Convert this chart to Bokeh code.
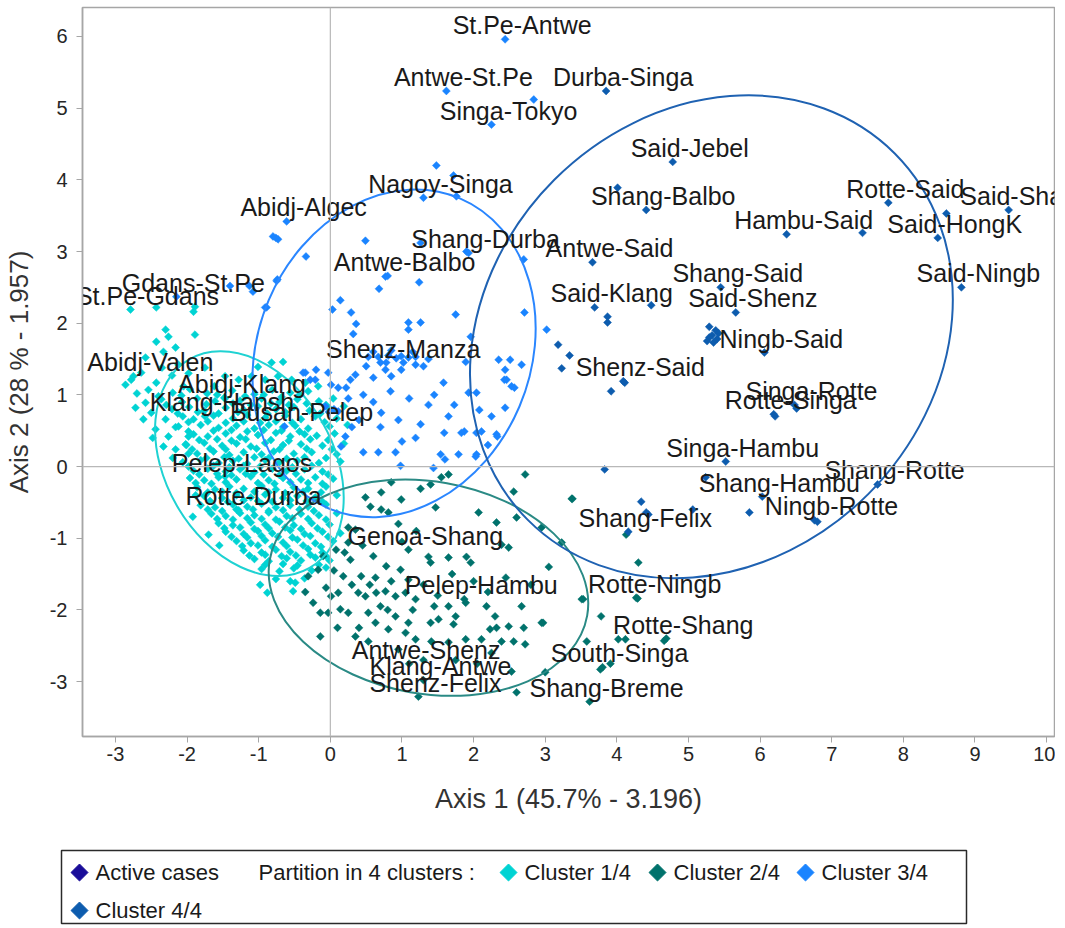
import numpy as np
from bokeh.plotting import figure
from bokeh.models import Range1d, FixedTicker, Span
from bokeh.embed import file_html
from bokeh.resources import INLINE
from bokeh.core.properties import value

# ---------------- data ----------------
x_ticks = [-3, -2, -1, 0, 1, 2, 3, 4, 5, 6, 7, 8, 9, 10]
y_ticks = [-3, -2, -1, 0, 1, 2, 3, 4, 5, 6]
x_title = "Axis 1 (45.7% - 3.196)"
y_title = "Axis 2 (28 % - 1.957)"

cluster_names = ["Cluster 1/4", "Cluster 2/4", "Cluster 3/4", "Cluster 4/4"]
cluster_colors = ["#00d3d3", "#00726c", "#1a84ff", "#0d5cae"]
ellipse_colors = ["#1fd2d2", "#2a8a85", "#2a86ff", "#1f62b2"]
active_color = "#1a0d99"

# labelled cases: name, axis1, axis2, cluster
lab_names = ["St.Pe-Antwe", "Antwe-St.Pe", "Durba-Singa", "Singa-Tokyo", "Said-Jebel",
             "Nagoy-Singa", "Abidj-Algec", "Shang-Balbo", "Rotte-Said", "Said-Shang",
             "Hambu-Said", "Said-HongK", "Shang-Durba", "Antwe-Said", "Antwe-Balbo",
             "Gdans-St.Pe", "Said-Ningb", "Shang-Said", "St.Pe-Gdans", "Said-Klang",
             "Said-Shenz", "Shenz-Manza", "Ningb-Said", "Abidj-Valen", "Shenz-Said",
             "Abidj-Klang", "Singa-Rotte", "Rotte-Singa", "Klang-Hansh", "Busan-Pelep",
             "Singa-Hambu", "Pelep-Lagos", "Shang-Rotte", "Shang-Hambu", "Rotte-Durba",
             "Ningb-Rotte", "Shang-Felix", "Genoa-Shang", "Pelep-Hambu", "Rotte-Ningb",
             "Rotte-Shang", "Antwe-Shenz", "South-Singa", "Klang-Antwe", "Shenz-Felix",
             "Shang-Breme"]
lab_x = [2.44, 1.62, 3.85, 2.25, 4.78, 1.30, -0.61, 4.41, 7.79, 9.47,
         6.37, 8.48, 1.93, 3.66, 0.80, -2.15, 8.81, 5.45, -2.79, 3.69,
         5.66, 0.78, 6.06, -2.75, 4.09, -1.47, 6.48, 6.19, -1.75, -0.64,
         5.52, -1.47, 7.64, 6.03, -1.31, 6.76, 4.16, 1.09, 1.87, 4.29,
         4.69, 1.10, 3.80, 1.30, 1.23, 3.62]
lab_y = [5.96, 5.24, 5.24, 4.77, 4.25, 3.75, 3.42, 3.58, 3.68, 3.58,
         3.24, 3.19, 2.98, 2.85, 2.66, 2.37, 2.50, 2.50, 2.19, 2.22,
         2.15, 1.45, 1.59, 1.26, 1.19, 0.95, 0.86, 0.73, 0.70, 0.56,
         0.07, -0.14, -0.25, -0.42, -0.60, -0.75, -0.91, -1.16, -1.85, -1.84,
         -2.40, -2.75, -2.80, -2.98, -3.21, -3.28]
lab_cluster = [3, 3, 4, 3, 4, 3, 3, 4, 4, 4,
               4, 4, 3, 4, 3, 3, 4, 4, 1, 4,
               4, 3, 4, 1, 4, 1, 4, 4, 1, 3,
               4, 1, 4, 4, 1, 4, 4, 2, 2, 2,
               2, 2, 2, 2, 2, 2]

# unlabelled cases of each cluster (axis1, axis2)
c1_points = [
    (-2.43, 2.22), (-1.91, 2.16), (-1.89, 2.23), (-2.30, 1.91), (-2.26, 1.81), (-2.43, 1.74), (-1.89, 1.84),
    (-2.33, 1.60), (-2.16, 1.66), (-2.58, 1.52), (-2.86, 1.14), (-2.78, 1.21), (-2.64, 1.31), (-2.54, 1.07),
    (-2.43, 1.17), (-2.40, 0.98), (-2.58, 0.89), (-2.61, 0.66), (-2.50, 0.75), (-2.30, 0.66), (-2.44, 0.52),
    (-2.26, 0.42), (-2.12, 0.56), (-1.98, 0.42), (-2.33, 0.28), (-2.16, 0.24), (-2.02, 0.31), (-0.82, 1.45),
    (-0.66, 1.46), (-1.01, 1.39), (-1.47, 1.26), (-1.28, 1.21), (-1.10, 1.26), (-0.91, 1.21), (-0.73, 1.26),
    (-0.54, 1.21), (-0.35, 1.17), (-0.17, 1.12), (-2.12, 1.42), (-1.98, 1.30), (-2.21, 1.27), (-1.75, 1.38),
    (-1.62, 1.12), (-2.05, 1.12), (-2.35, 1.38), (-2.70, 1.02), (-2.72, 0.82), (-2.48, 0.40), (-2.20, 0.12),
    (-1.98, 0.18), (-1.88, -0.40), (-1.92, -0.70), (-1.70, -0.95), (-1.55, -1.10),
    (-2.20, 1.03), (-1.96, 1.08), (-1.72, 1.02), (-1.37, 1.06), (-1.06, 1.01), (-0.81, 1.07), (-0.56, 1.03), (-0.31, 1.05),
    (-2.36, 0.94), (-2.07, 0.90), (-1.86, 0.95), (-1.61, 0.91), (-1.48, 0.96), (-1.26, 0.92), (-0.96, 0.95),
    (-0.71, 0.90), (-0.46, 0.94), (-0.16, 0.91), (0.04, 0.95),
    (-2.21, 0.80), (-1.97, 0.83), (-1.76, 0.78), (-1.46, 0.82), (-1.21, 0.79), (-1.01, 0.84), (-0.76, 0.80),
    (-0.51, 0.83), (-0.29, 0.78), (-0.01, 0.81), (0.19, 0.84),
    (-2.06, 0.70), (-1.91, 0.66), (-1.63, 0.71), (-1.36, 0.67), (-1.16, 0.72), (-0.91, 0.68), (-0.63, 0.71),
    (-0.41, 0.66), (-0.21, 0.70), (0.09, 0.67),
    (-2.16, 0.55), (-1.81, 0.58), (-1.56, 0.54), (-1.31, 0.57), (-1.06, 0.53), (-0.86, 0.58), (-0.66, 0.55),
    (-0.49, 0.57), (-0.31, 0.53), (-0.01, 0.56), (0.24, 0.58),
    (-1.91, 0.45), (-1.71, 0.42), (-1.46, 0.46), (-1.26, 0.41), (-1.01, 0.44), (-0.76, 0.47), (-0.56, 0.42),
    (-0.36, 0.45), (-0.19, 0.43), (0.06, 0.46),
    (-2.01, 0.30), (-1.76, 0.33), (-1.51, 0.29), (-1.31, 0.32), (-1.11, 0.28), (-0.91, 0.33), (-0.66, 0.30),
    (-0.41, 0.31), (-0.11, 0.29), (0.19, 0.32),
    (-1.86, 0.18), (-1.63, 0.21), (-1.41, 0.16), (-1.21, 0.20), (-0.96, 0.17), (-0.79, 0.21), (-0.51, 0.18),
    (-0.26, 0.20), (0.09, 0.17),
    (-2.06, 0.06), (-1.81, 0.09), (-1.56, 0.05), (-1.36, 0.08), (-1.16, 0.04), (-0.91, 0.09), (-0.71, 0.06),
    (-0.46, 0.08), (-0.16, 0.05), (0.14, 0.07),
    (-1.91, -0.06), (-1.71, -0.03), (-1.46, -0.07), (-1.26, -0.04), (-1.06, -0.08), (-0.81, -0.03),
    (-0.61, -0.06), (-0.36, -0.04), (-0.11, -0.07),
    (-1.96, -0.16), (-1.76, -0.19), (-1.56, -0.15), (-1.31, -0.18), (-1.11, -0.14), (-0.86, -0.19),
    (-0.66, -0.16), (-0.41, -0.18), (-0.21, -0.15), (0.04, -0.17),
    (-1.86, -0.29), (-1.61, -0.32), (-1.41, -0.28), (-1.21, -0.31), (-0.96, -0.27), (-0.76, -0.32),
    (-0.51, -0.29), (-0.31, -0.31), (-0.06, -0.28),
    (-1.76, -0.41), (-1.51, -0.44), (-1.31, -0.40), (-1.11, -0.43), (-0.91, -0.39), (-0.66, -0.44),
    (-0.46, -0.41), (-0.21, -0.43), (0.09, -0.40),
    (-1.81, -0.54), (-1.61, -0.57), (-1.36, -0.53), (-1.16, -0.56), (-0.96, -0.52), (-0.76, -0.57),
    (-0.56, -0.54), (-0.31, -0.56), (-0.06, -0.53),
    (-1.66, -0.66), (-1.46, -0.69), (-1.26, -0.65), (-1.06, -0.68), (-0.86, -0.64), (-0.61, -0.69),
    (-0.41, -0.66), (-0.16, -0.68), (0.09, -0.65),
    (-1.56, -0.79), (-1.36, -0.82), (-1.11, -0.78), (-0.91, -0.81), (-0.71, -0.77), (-0.51, -0.82),
    (-0.26, -0.79), (-0.01, -0.81),
    (-1.46, -0.91), (-1.21, -0.94), (-1.01, -0.90), (-0.81, -0.93), (-0.56, -0.89), (-0.36, -0.94),
    (-0.11, -0.91), (0.14, -0.93),
    (-1.31, -1.04), (-1.11, -1.07), (-0.91, -1.03), (-0.66, -1.06), (-0.46, -1.02), (-0.21, -1.07), (0.04, -1.04),
    (-1.21, -1.17), (-0.96, -1.20), (-0.76, -1.16), (-0.56, -1.19), (-0.31, -1.15), (-0.11, -1.20),
    (-1.06, -1.29), (-0.86, -1.32), (-0.61, -1.28), (-0.41, -1.31), (-0.21, -1.27), (-0.01, -1.31),
    (-0.96, -1.43), (-0.71, -1.46), (-0.51, -1.42), (-0.26, -1.45), (-0.06, -1.41),
    (-0.76, -1.57), (-0.56, -1.60), (-0.36, -1.56), (-0.98, -1.65), (-0.49, -1.62), (-0.88, -1.76), (-0.52, -1.74),
    (-2.08, 0.99), (-1.58, 1.00), (-1.19, 0.98), (-0.93, 1.00), (-0.68, 0.97), (-0.43, 1.00),
    (-2.29, 0.86), (-1.73, 0.87), (-1.36, 0.88), (-1.11, 0.86), (-0.83, 0.88), (-0.58, 0.86), (-0.33, 0.88), (-0.06, 0.86),
    (-2.13, 0.74), (-1.85, 0.76), (-1.56, 0.74), (-1.29, 0.76), (-0.88, 0.74), (-0.63, 0.76), (-0.14, 0.74),
    (-1.98, 0.62), (-1.71, 0.63), (-1.46, 0.61), (-1.21, 0.63), (-0.98, 0.61), (-0.76, 0.63), (-0.53, 0.61), (-0.08, 0.62),
    (-1.98, 0.49), (-1.63, 0.50), (-1.38, 0.51), (-1.16, 0.49), (-0.93, 0.51), (-0.68, 0.50), (-0.43, 0.49),
    (-1.83, 0.37), (-1.58, 0.38), (-1.38, 0.36), (-1.18, 0.38), (-0.83, 0.37), (-0.58, 0.36), (-0.28, 0.38), (-0.03, 0.37),
    (-1.93, 0.24), (-1.68, 0.25), (-1.46, 0.24), (-1.03, 0.25), (-0.71, 0.24), (-0.33, 0.25), (0.02, 0.24),
    (-1.73, 0.12), (-1.48, 0.13), (-1.28, 0.11), (-1.06, 0.13), (-0.86, 0.12), (-0.61, 0.11), (-0.36, 0.13), (-0.06, 0.12),
    (-1.98, 0.00), (-1.63, 0.01), (-1.41, -0.01), (-1.21, 0.01), (-0.98, 0.00), (-0.53, -0.01), (-0.26, 0.01),
    (-1.83, -0.11), (-1.58, -0.10), (-1.38, -0.12), (-1.18, -0.10), (-0.93, -0.11), (-0.71, -0.12), (-0.48, -0.10), (-0.03, -0.11),
    (-1.88, -0.23), (-1.66, -0.24), (-1.46, -0.22), (-1.01, -0.23), (-0.78, -0.24), (-0.56, -0.22), (-0.31, -0.23), (-0.11, -0.24),
    (-1.71, -0.36), (-1.51, -0.35), (-1.31, -0.37), (-1.06, -0.35), (-0.86, -0.36), (-0.63, -0.37), (-0.38, -0.35), (-0.13, -0.36),
    (-1.68, -0.48), (-1.43, -0.49), (-1.21, -0.47), (-1.01, -0.48), (-0.81, -0.49), (-0.56, -0.47), (-0.33, -0.48), (-0.11, -0.49),
    (-1.71, -0.60), (-1.51, -0.62), (-1.28, -0.61), (-1.08, -0.60), (-0.86, -0.62), (-0.66, -0.61), (-0.43, -0.60), (-0.23, -0.62),
    (-1.58, -0.73), (-1.36, -0.74), (-1.16, -0.72), (-0.96, -0.73), (-0.76, -0.74), (-0.53, -0.72), (-0.31, -0.73), (-0.06, -0.74),
    (-1.48, -0.86), (-1.26, -0.85), (-1.06, -0.87), (-0.86, -0.86), (-0.63, -0.85), (-0.41, -0.87), (-0.18, -0.86),
    (-1.38, -0.98), (-1.16, -0.99), (-0.96, -0.97), (-0.73, -0.98), (-0.53, -0.99), (-0.28, -0.97), (-0.03, -0.98),
    (-1.23, -1.11), (-1.01, -1.10), (-0.81, -1.12), (-0.61, -1.11), (-0.38, -1.10), (-0.13, -1.12),
    (-1.13, -1.24), (-0.91, -1.23), (-0.68, -1.25), (-0.48, -1.24), (-0.28, -1.23), (-0.06, -1.25),
    (-0.91, -1.37), (-0.66, -1.36), (-0.46, -1.38), (-0.16, -1.37),
]

c2_points = [
    (1.65, -0.11), (1.55, -0.15), (2.72, -0.11), (0.85, -0.22), (1.26, -0.31), (1.40, -0.25), (2.56, -0.35),
    (3.38, -0.45), (0.49, -0.43), (0.71, -0.36), (0.99, -0.46), (0.56, -0.56), (0.71, -0.60), (0.81, -0.64),
    (1.47, -0.57), (2.07, -0.64), (2.32, -0.78), (2.60, -0.71), (2.95, -0.85), (0.25, -0.85), (0.35, -0.88),
    (0.08, -1.16), (0.25, -1.06), (1.37, -1.26), (1.40, -1.34), (1.65, -1.27), (1.90, -1.26), (1.96, -1.34),
    (2.39, -1.09), (2.49, -1.13), (-0.17, -1.44), (-0.31, -1.53), (0.28, -1.30), (0.18, -1.53), (0.43, -1.53),
    (0.63, -1.55), (0.78, -1.39), (0.98, -1.44), (1.09, -1.58), (-0.06, -1.69), (-0.24, -1.90), (0.01, -1.81),
    (0.11, -1.76), (0.39, -1.76), (0.49, -1.81), (0.64, -1.76), (0.77, -1.74), (0.91, -1.81), (1.05, -1.76),
    (1.19, -1.85), (0.70, -1.95), (0.53, -2.04), (-0.14, -2.04), (-0.03, -2.04), (0.14, -1.99), (0.25, -2.04),
    (1.65, -1.95), (1.89, -1.90), (2.18, -1.95), (2.67, -1.95), (3.51, -1.85), (3.78, -2.09), (0.91, -2.09),
    (1.09, -2.18), (1.40, -2.18), (1.51, -2.13), (1.75, -2.09), (1.72, -2.20), (2.30, -2.09), (2.32, -2.25),
    (2.49, -2.23), (2.23, -2.27), (2.70, -2.25), (2.95, -2.18), (0.63, -2.18), (0.81, -2.27), (1.05, -2.32),
    (1.19, -2.41), (-0.14, -2.37), (0.35, -2.37), (0.53, -2.44), (1.41, -2.44), (1.65, -2.45), (1.89, -2.41),
    (2.11, -2.41), (2.39, -2.44), (2.56, -2.44), (2.72, -2.48), (3.58, -2.44), (4.12, -2.41), (2.53, -2.86),
    (3.00, -2.87), (3.77, -2.83), (2.60, -3.15), (3.37, -0.45), (4.13, -0.95), (4.30, -1.34), (3.23, -1.06),
    (3.53, -1.85), (2.97, -2.18), (4.02, -2.41), (4.66, -2.43), (3.91, -2.75), (4.27, -1.83),
    (0.30, -1.65), (0.55, -1.65), (0.85, -1.60), (1.30, -1.65), (1.50, -1.80), (0.20, -1.20), (0.45, -1.10),
    (0.60, -1.25), (1.00, -1.05), (1.20, -0.90), (0.95, -0.80), (1.70, -1.50), (2.00, -1.60), (2.20, -1.75),
    (2.45, -1.55), (2.80, -1.65), (3.05, -1.40), (0.40, -2.25), (0.95, -2.55), (1.30, -2.70), (1.75, -2.70),
    (2.05, -2.75), (2.25, -2.60), (0.10, -2.25), (-0.35, -1.75), (1.15, -2.00), (0.80, -2.00), (1.45, -1.95),
    (0.05, -1.45), (-0.10, -1.25),
]

c3_points = [
    (1.48, 4.20), (1.72, 4.06), (1.76, 3.77), (0.49, 3.15), (1.26, 3.12), (1.90, 3.00), (2.70, 2.89),
    (-0.34, 2.93), (-0.80, 3.21), (-0.73, 3.17), (-0.76, 3.19), (-0.74, 2.61), (-0.91, 2.22), (0.77, 2.65),
    (0.68, 2.48), (1.24, 2.57), (0.14, 2.32), (0.03, 2.19), (0.29, 2.15), (0.36, 1.99), (0.32, 1.85),
    (1.09, 2.01), (1.09, 1.91), (1.26, 2.01), (1.75, 2.12), (2.71, 2.15), (3.02, 1.91), (2.35, 1.49),
    (2.51, 1.49), (2.67, 1.42), (2.44, 1.35), (2.46, 1.21), (2.53, 1.12), (1.89, 1.46), (0.53, 1.53),
    (0.67, 1.53), (0.81, 1.55), (0.92, 1.51), (0.99, 1.54), (1.09, 1.52), (1.19, 1.53), (1.37, 1.50),
    (0.77, 1.35), (0.99, 1.35), (1.19, 1.42), (0.60, 1.24), (0.85, 1.26), (1.58, 1.17), (1.93, 1.03),
    (2.04, 1.03), (1.37, 0.86), (1.73, 0.86), (2.44, 0.82), (0.46, 1.00), (0.84, 1.05), (0.71, 0.75),
    (1.26, 0.59), (1.59, 0.47), (1.83, 0.47), (2.04, 0.47), (2.32, 0.45), (1.19, 0.40), (0.91, 0.20),
    (0.67, 0.20), (0.46, 0.20), (1.54, 0.17), (1.79, 0.17), (2.04, 0.17), (-0.35, 1.31), (-0.20, 1.35),
    (-0.03, 1.31), (-0.21, 1.21), (0.01, 1.14), (0.11, 1.10), (0.22, 1.10), (0.28, 1.21), (0.35, 1.28),
    (-0.07, 0.84), (0.05, 0.80), (0.11, 0.77), (-0.02, 0.76), (-0.38, 1.31), (-0.28, 1.21), (0.21, 0.42),
    (0.15, 0.28), (-1.40, 2.52), (-1.13, 2.52), (-1.08, 2.44), (-0.75, 2.59), (-0.89, 2.22), (2.84, 5.12),
    (1.96, 1.81), (2.08, 0.79), (2.11, 0.49), (2.33, 0.42), (2.03, 0.14), (0.98, 0.01), (1.44, -0.02),
    (1.60, 0.10), (2.57, 1.10), (2.43, 1.21), (1.87, 0.49),
    (0.60, 1.60), (0.85, 1.62), (1.15, 1.60), (0.70, 1.45), (1.02, 1.45), (1.30, 1.40), (0.50, 1.40),
    (0.40, 0.65), (0.70, 0.55), (0.95, 0.65), (1.10, 0.95), (0.60, 0.90), (1.45, 1.00), (1.65, 0.70),
    (1.00, 0.35), (0.30, 0.55), (0.25, 0.95), (2.25, 0.70), (2.20, 0.30),
]

c4_points = [
    (4.01, 3.89), (8.60, 3.53), (7.43, 3.26), (4.48, 2.25), (3.87, 2.09), (3.87, 2.01), (5.29, 1.95),
    (5.33, 1.83), (5.40, 1.78), (5.35, 1.73), (5.29, 1.80), (5.38, 1.90), (5.26, 1.75), (5.42, 1.86),
    (3.18, 1.70), (3.34, 1.55), (3.23, 1.37), (4.11, 1.17), (3.92, 1.05), (6.21, 0.70), (6.51, 0.81),
    (3.83, -0.04), (5.24, -0.15), (4.34, -0.49), (5.06, -0.60), (5.85, -0.64), (6.80, -0.77), (4.44, -0.67),
    (4.41, -0.64),
]

# concentration ellipses of the clusters (centre, full axes, angle in degrees)
ell_cx = [-1.13, 1.37, 0.89, 5.32]
ell_cy = [0.04, -1.69, 1.58, 1.81]
ell_major = [3.36, 4.50, 4.70, 7.24]
ell_minor = [2.34, 2.96, 3.80, 6.20]
ell_angle = [-60, -10, 67, 45]

FONT = "Liberation Sans"

# ---------------- main chart ----------------
p = figure(frame_width=972, frame_height=729,
           x_range=Range1d(-3.46, 10.11), y_range=Range1d(-3.766, 6.404),
           output_backend="svg", toolbar_location=None,
           min_border_left=82, min_border_right=1, min_border_top=7, min_border_bottom=99)
p.grid.visible = False
p.outline_line_color = "#a6a6a6"
p.outline_line_width = 1.5
p.background_fill_color = "white"

for ax, ticks in ((p.xaxis, x_ticks), (p.yaxis, y_ticks)):
    ax.ticker = FixedTicker(ticks=ticks)
    ax.major_label_overrides = {t: str(t) for t in ticks}
    ax.axis_line_color = "#a6a6a6"
    ax.axis_line_width = 1.5
    ax.major_tick_line_color = "#a6a6a6"
    ax.major_tick_out = 6
    ax.major_tick_in = 0
    ax.minor_tick_line_color = None
    ax.major_label_text_font = FONT
    ax.major_label_text_font_size = "20px"
    ax.major_label_text_color = "#262626"
    ax.axis_label_text_font = FONT
    ax.axis_label_text_font_style = "normal"
    ax.axis_label_text_color = "#333333"
p.xaxis.axis_label = x_title
p.yaxis.axis_label = y_title
p.xaxis.axis_label_text_font_size = "27px"
p.yaxis.axis_label_text_font_size = "26px"
p.xaxis.major_label_standoff = 4
p.xaxis.axis_label_standoff = 20
p.yaxis.major_label_standoff = 9
p.yaxis.axis_label_standoff = 13

p.add_layout(Span(location=0, dimension="height", line_color="#b8b8b8", line_width=1.2))
p.add_layout(Span(location=0, dimension="width", line_color="#b8b8b8", line_width=1.2))

all_points = [c1_points, c2_points, c3_points, c4_points]
for k in range(4):
    xs = [pt[0] for pt in all_points[k]] + [lab_x[i] for i in range(len(lab_x)) if lab_cluster[i] == k + 1]
    ys = [pt[1] for pt in all_points[k]] + [lab_y[i] for i in range(len(lab_y)) if lab_cluster[i] == k + 1]
    p.scatter(xs, ys, marker="square", angle=np.pi / 4, size=5.6,
              fill_color=cluster_colors[k], line_color=cluster_colors[k], line_width=0.5)

p.ellipse(x=ell_cx, y=ell_cy, width=ell_major, height=ell_minor,
          angle=[np.deg2rad(a) for a in ell_angle], angle_units="rad",
          fill_color=None, line_color=ellipse_colors, line_width=2)

p.text(x=lab_x, y=lab_y, text=lab_names, text_align="center", text_baseline="alphabetic",
       x_offset=17, y_offset=-14, text_font=value(FONT), text_font_size="25px",
       text_color="#1a1a1a")

# ---------------- legend strip (separate root, not frame-aligned) ----------------
LW, LH = 1049, 90
lg = figure(width=LW, height=LH, x_range=Range1d(0, LW), y_range=Range1d(LH, 0),
            x_axis_type=None, y_axis_type=None, output_backend="svg",
            toolbar_location=None, min_border=0, outline_line_color=None)
lg.grid.visible = False
lg.quad(left=[61], right=[966], top=[15], bottom=[88], fill_color=None,
        line_color="#2a2a2a", line_width=1.5)

leg_labels = ["Active cases", "Cluster 1/4", "Cluster 2/4", "Cluster 3/4", "Cluster 4/4"]
leg_colors = [active_color] + cluster_colors
mark_x = [79, 508, 657, 805, 79]
mark_y = [37, 37, 37, 37, 75]
lg.scatter(mark_x, mark_y, marker="square", angle=np.pi / 4, size=12,
           fill_color=leg_colors, line_color=leg_colors)
lg.text(x=[m + 16 for m in mark_x], y=mark_y, text=leg_labels, text_baseline="middle",
        text_align="left", text_font=value(FONT), text_font_size="22px", text_color="#1a1a1a")
lg.text(x=[258], y=[37], text=["Partition in 4 clusters :"], text_baseline="middle",
        text_align="left", text_font=value(FONT), text_font_size="22px", text_color="#1a1a1a")

open("out.html", "w").write(file_html([p, lg], INLINE))
